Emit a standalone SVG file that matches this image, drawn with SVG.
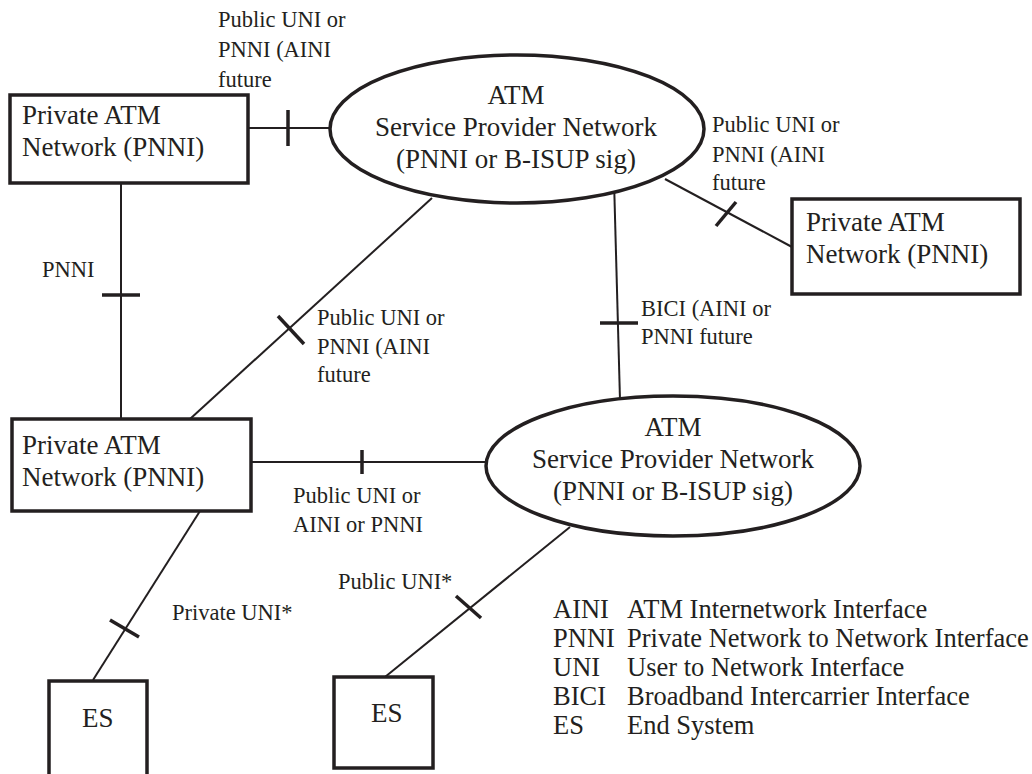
<svg xmlns="http://www.w3.org/2000/svg" width="1032" height="774" viewBox="0 0 1032 774">
<style>
text{fill:#231f20;font-family:"Liberation Serif","Times New Roman",serif}
.n{font-size:27px}
.l{font-size:22.5px}
.g{font-size:26.5px}
.box{fill:#fff;stroke:#231f20;stroke-width:3.5}
.ell{fill:#fff;stroke:#231f20;stroke-width:3.5}
.c{stroke:#231f20;stroke-width:2;fill:none}
.t{stroke:#231f20;stroke-width:3.5;fill:none}
</style>
<rect width="1032" height="774" fill="#fff"/>
<g id="connectors">
<line class="c" x1="248" y1="128" x2="330" y2="128"/>
<line class="t" x1="288" y1="110" x2="288" y2="146"/>
<line class="c" x1="665" y1="179" x2="792" y2="247"/>
<line class="t" x1="716" y1="226" x2="736" y2="202"/>
<line class="c" x1="121" y1="183" x2="121" y2="419"/>
<line class="t" x1="102" y1="295" x2="140" y2="295"/>
<line class="c" x1="432" y1="198" x2="190" y2="419"/>
<line class="t" x1="278" y1="316" x2="304" y2="344"/>
<line class="c" x1="614" y1="180" x2="620" y2="400"/>
<line class="t" x1="600" y1="323" x2="638" y2="323"/>
<line class="c" x1="252" y1="462" x2="487" y2="462"/>
<line class="t" x1="362" y1="450" x2="362" y2="474"/>
<line class="c" x1="200" y1="511" x2="93" y2="680"/>
<line class="t" x1="110" y1="620" x2="139" y2="637"/>
<line class="c" x1="570" y1="527" x2="385" y2="677"/>
<line class="t" x1="456" y1="596" x2="481" y2="618"/>
</g>
<g id="privA"><rect class="box" x="10" y="95" width="238" height="88"/><text class="n" x="22" y="124">Private ATM</text><text class="n" x="22" y="156">Network (PNNI)</text></g>
<g id="provider1"><ellipse class="ell" cx="517" cy="129" rx="187" ry="74"/><text class="n" x="516" y="104" text-anchor="middle">ATM</text><text class="n" x="516" y="136" text-anchor="middle">Service Provider Network</text><text class="n" x="516" y="168" text-anchor="middle">(PNNI or B-ISUP sig)</text></g>
<g id="privB"><rect class="box" x="792" y="199" width="228" height="95"/><text class="n" x="806" y="231">Private ATM</text><text class="n" x="806" y="263">Network (PNNI)</text></g>
<g id="privC"><rect class="box" x="12" y="419" width="239" height="92"/><text class="n" x="22" y="454">Private ATM</text><text class="n" x="22" y="486">Network (PNNI)</text></g>
<g id="provider2"><ellipse class="ell" cx="673" cy="466" rx="187" ry="70"/><text class="n" x="673" y="436" text-anchor="middle">ATM</text><text class="n" x="673" y="468" text-anchor="middle">Service Provider Network</text><text class="n" x="673" y="500" text-anchor="middle">(PNNI or B-ISUP sig)</text></g>
<g id="es1"><polyline class="box" points="49,774 49,681 147,681 147,774"/><text class="n" x="82" y="727">ES</text></g>
<g id="es2"><rect class="box" x="334" y="677" width="99" height="91"/><text class="n" x="371" y="722">ES</text></g>
<g id="labels">
<text class="l" x="218" y="27">Public UNI or</text><text class="l" x="218" y="57">PNNI (AINI</text><text class="l" x="218" y="87">future</text>
<text class="l" x="712" y="132">Public UNI or</text><text class="l" x="712" y="162">PNNI (AINI</text><text class="l" x="712" y="190">future</text>
<text class="l" x="42" y="277">PNNI</text>
<text class="l" x="317" y="325">Public UNI or</text><text class="l" x="317" y="354">PNNI (AINI</text><text class="l" x="317" y="382">future</text>
<text class="l" x="641" y="316">BICI (AINI or</text><text class="l" x="641" y="344">PNNI future</text>
<text class="l" x="293" y="503">Public UNI or</text><text class="l" x="293" y="532">AINI or PNNI</text>
<text class="l" x="172" y="620">Private UNI*</text>
<text class="l" x="338" y="589">Public UNI*</text>
</g>
<g id="legend">
<text class="g" x="553" y="618">AINI</text><text class="g" x="627" y="618">ATM Internetwork Interface</text>
<text class="g" x="553" y="647">PNNI</text><text class="g" x="627" y="647">Private Network to Network Interface</text>
<text class="g" x="553" y="676">UNI</text><text class="g" x="627" y="676">User to Network Interface</text>
<text class="g" x="553" y="705">BICI</text><text class="g" x="627" y="705">Broadband Intercarrier Interface</text>
<text class="g" x="553" y="734">ES</text><text class="g" x="627" y="734">End System</text>
</g>
</svg>
